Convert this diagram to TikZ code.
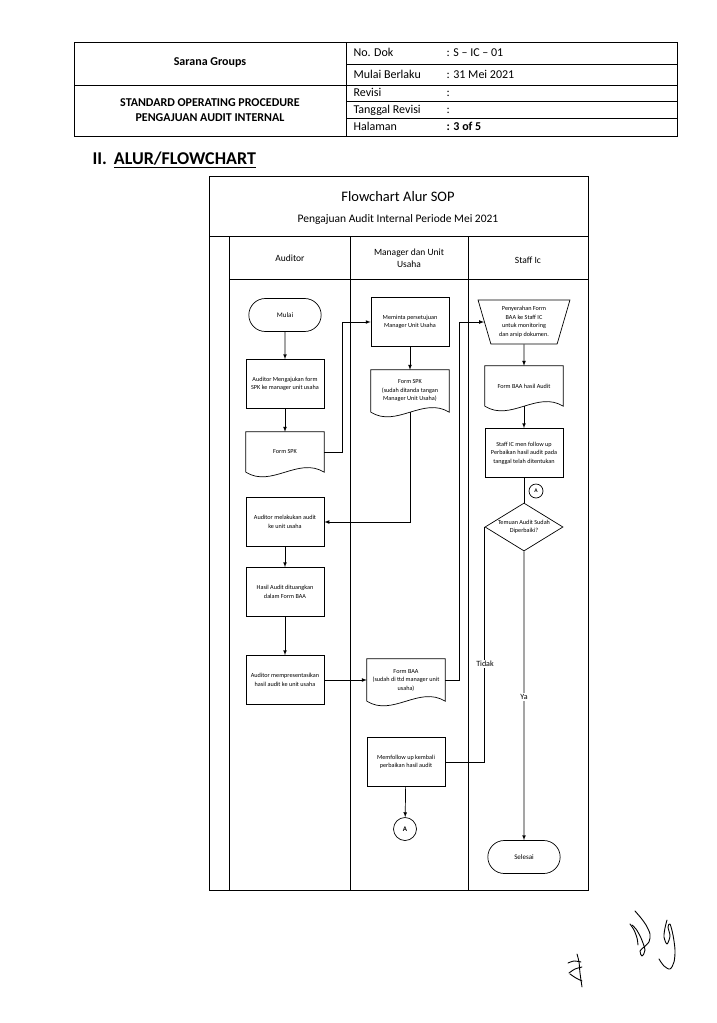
\documentclass[tikz,border=0pt]{standalone}
\usepackage{fontspec}
\setmainfont{Carlito}
\usetikzlibrary{calc, shapes.misc, shapes.geometric}

\tikzset{
	txt/.style={font=\fontsize{6.2}{8.5}\selectfont, align=center},
	box/.style={draw, txt, line width=0.7pt, minimum width=78pt, minimum height=49pt, inner sep=1pt},
	docu/.style={txt, minimum width=78pt, minimum height=40pt, inner sep=1pt},
	term/.style={draw, rounded rectangle, line width=0.7pt, minimum width=79pt, minimum height=33pt, font=\fontsize{7}{8}\selectfont},
	manual/.style={draw, txt, trapezium, trapezium angle=73, shape border rotate=180, trapezium stretches=true, line width=0.7pt, minimum width=92pt, minimum height=44pt, inner sep=1pt},
	decis/.style={draw, txt, diamond, aspect=1.6, line width=0.7pt, minimum width=78pt, minimum height=48pt, inner sep=0pt},
	conn/.style={draw, circle, line width=0.7pt, minimum size=23pt, inner sep=0pt, font=\fontsize{7}{8}\selectfont\bfseries},
	flow/.style={line width=0.7pt, -latex},
	wire/.style={line width=0.7pt},
	lbl/.style={fill=white, inner sep=1pt, font=\fontsize{8}{9}\selectfont},
	tbl/.style={anchor=west, text height=8.5pt, text depth=2.5pt, font=\fontsize{12}{14}\selectfont},
	sig/.style={line width=0.9pt, line cap=round, line join=round},
}

% document symbol: flat top, wavy bottom
\newcommand{\docwave}[1]{%
	\draw[wire] (#1.south west) -- (#1.north west) -- (#1.north east) -- (#1.south east)
		.. controls ($(#1.south east)!0.33!(#1.south west)+(0,-16)$) and ($(#1.south east)!0.67!(#1.south west)+(0,16)$) .. (#1.south west);}

\begin{document}
\begin{tikzpicture}[x=1pt, y=-1pt]
	\fill[white] (0,0) rectangle (717,1023);
	\useasboundingbox (0,0) rectangle (717,1023);
	
	% header table
	\draw[line width=0.8pt] (74,42) rectangle (677,136);
	\draw[line width=0.8pt] (346,42) -- (346,136);
	\draw[line width=0.8pt] (74,85) -- (677,85);
	\foreach \y in {64,101,118}
		\draw[line width=0.6pt] (346,\y) -- (677,\y);
	
	\node[font=\bfseries\fontsize{12}{14}\selectfont] at (210,63) (company) {Sarana Groups};
	\node[font=\bfseries\fontsize{12}{15.5}\selectfont, align=center] at (210,110) (sop) {STANDARD OPERATING PROCEDURE\\PENGAJUAN AUDIT INTERNAL};
	
	\foreach \y/\k/\v in {53/No. Dok/{: S -- IC -- 01}, 75/Mulai Berlaku/{: 31 Mei 2021}, 93/Revisi/{:}, 110/Tanggal Revisi/{:}}{
		\node[tbl] at (350,\y) {\k};
		\node[tbl] at (443,\y) {\v};
	}
	\node[tbl] at (350,127) (halaman) {Halaman};
	\node[tbl, font=\bfseries\fontsize{12}{14}\selectfont] at (443,127) (page) {: 3 of 5};
	
	\node[anchor=west, font=\bfseries\fontsize{18}{20}\selectfont] at (89,160) (section) {II.\hspace{7pt}\underline{ALUR/FLOWCHART}};
	
	% flowchart frame and lanes
	\draw[line width=0.8pt] (209,176) rectangle (588,890);
	\draw[line width=0.8pt] (209,236) -- (588,236);
	\draw[line width=0.8pt] (229,236) -- (229,890);
	\draw[line width=0.8pt] (229,279) -- (588,279);
	\draw[line width=0.8pt] (350,236) -- (350,890);
	\draw[line width=0.8pt] (468,236) -- (468,890);
	
	\node[font=\fontsize{14.5}{16}\selectfont] at (398,197) (title) {Flowchart Alur SOP};
	\node[font=\fontsize{11.5}{13}\selectfont] at (398,219) (subtitle) {Pengajuan Audit Internal Periode Mei 2021};
	
	\node[font=\fontsize{9.5}{12}\selectfont] at (290,258) (laneA) {Auditor};
	\node[font=\fontsize{9.5}{12}\selectfont, align=center] at (409,258) (laneM) {Manager dan Unit\\Usaha};
	\node[font=\fontsize{9.5}{12}\selectfont] at (528,260) (laneS) {Staff Ic};
	
	% auditor lane
	\node[term] at (285,315) (mulai) {Mulai};
	\node[box] at (285,384) (ajukan) {Auditor Mengajukan form\\SPK ke manager unit usaha};
	\node[docu] at (285,452) (spk) {Form SPK};
	\docwave{spk}
	\node[box] at (285,522) (lakukan) {Auditor melakukan audit\\ke unit usaha};
	\node[box] at (285,592) (hasil) {Hasil Audit dituangkan\\dalam Form BAA};
	\node[box] at (285,680) (presentasi) {Auditor mempresentasikan\\hasil audit ke unit usaha};
	
	% manager lane
	\node[box] at (410,322) (minta) {Meminta persetujuan\\Manager Unit Usaha};
	\node[docu, minimum height=42pt] at (410,391) (spkttd) {Form SPK\\(sudah ditanda tangan\\Manager Unit Usaha)};
	\docwave{spkttd}
	\node[docu, minimum height=42pt] at (406,680) (baa) {Form BAA\\(sudah di ttd manager unit\\usaha)};
	\docwave{baa}
	\node[box] at (406,762) (followup) {Memfollow up kembali\\perbaikan hasil audit};
	\node[conn] at (405,829) (conA) {A};
	
	% staff lane
	\node[manual] at (524,322) (serah) {Penyerahan Form\\BAA ke Staff IC\\untuk monitoring\\dan arsip dokumen.};
	\node[docu] at (524,386) (baahasil) {Form BAA hasil Audit};
	\docwave{baahasil}
	\node[box] at (524,453) (staffup) {Staff IC men follow up\\Perbaikan hasil audit pada\\tanggal telah ditentukan};
	\node[conn, minimum size=14pt, font=\fontsize{5.5}{6}\selectfont\bfseries] at (536,491) (conB) {A};
	\node[decis] at (524,527) (cek) {Temuan Audit Sudah\\Diperbaiki?};
	\node[term] at (524,857) (selesai) {Selesai};
	
	% connectors
	\draw[flow] (mulai) -- (ajukan);
	\draw[flow] (ajukan) -- (spk);
	\draw[flow] (spk.east) -- ++(18,0) |- (minta.west);
	\draw[flow] (minta) -- (spkttd);
	\draw[flow] (spkttd.south) |- (lakukan.east);
	\draw[flow] (lakukan) -- (hasil);
	\draw[flow] (hasil) -- (presentasi);
	\draw[flow] (presentasi.east) -- (baa.west);
	\draw[flow] (baa.east) -- ++(14,0) |- (serah.west);
	\draw[flow] (serah) -- (baahasil);
	\draw[flow] (baahasil.south) -- (staffup);
	\draw[wire] (staffup) -- (cek);
	\draw[wire] (cek.west) |- (followup.east);
	\draw[flow] (cek.south) -- (selesai);
	\draw[flow] (followup) -- (conA);
	
	\node[lbl] at (485,664) (tidak) {Tidak};
	\node[lbl] at (524,697) (ya) {Ya};
	
	% signatures
	\draw[sig] plot[smooth] coordinates {(577,954) (579,962) (580,973) (582,987)};
	\draw[sig] plot[smooth] coordinates {(568,963) (574,961) (581,962)};
	\draw[sig] plot[smooth] coordinates {(569,973) (575,969) (582,967)};
	\draw[sig] plot[smooth] coordinates {(570,974) (576,978) (582,981)};
	\draw[sig] plot[smooth] coordinates {(635,911) (641,918) (646,925) (650,934) (649,942) (644,947) (640,951) (642,956) (645,950) (641,938) (636,929) (632,925)};
	\draw[sig] plot[smooth] coordinates {(630,924) (634,930) (637,938) (638,945)};
	\draw[sig] plot[smooth] coordinates {(667,920) (665,928) (664,937) (667,944) (670,936) (668,927) (670,924) (673,935) (675,950) (674,962) (670,969) (664,966) (659,959)};
\end{tikzpicture}
\end{document}
